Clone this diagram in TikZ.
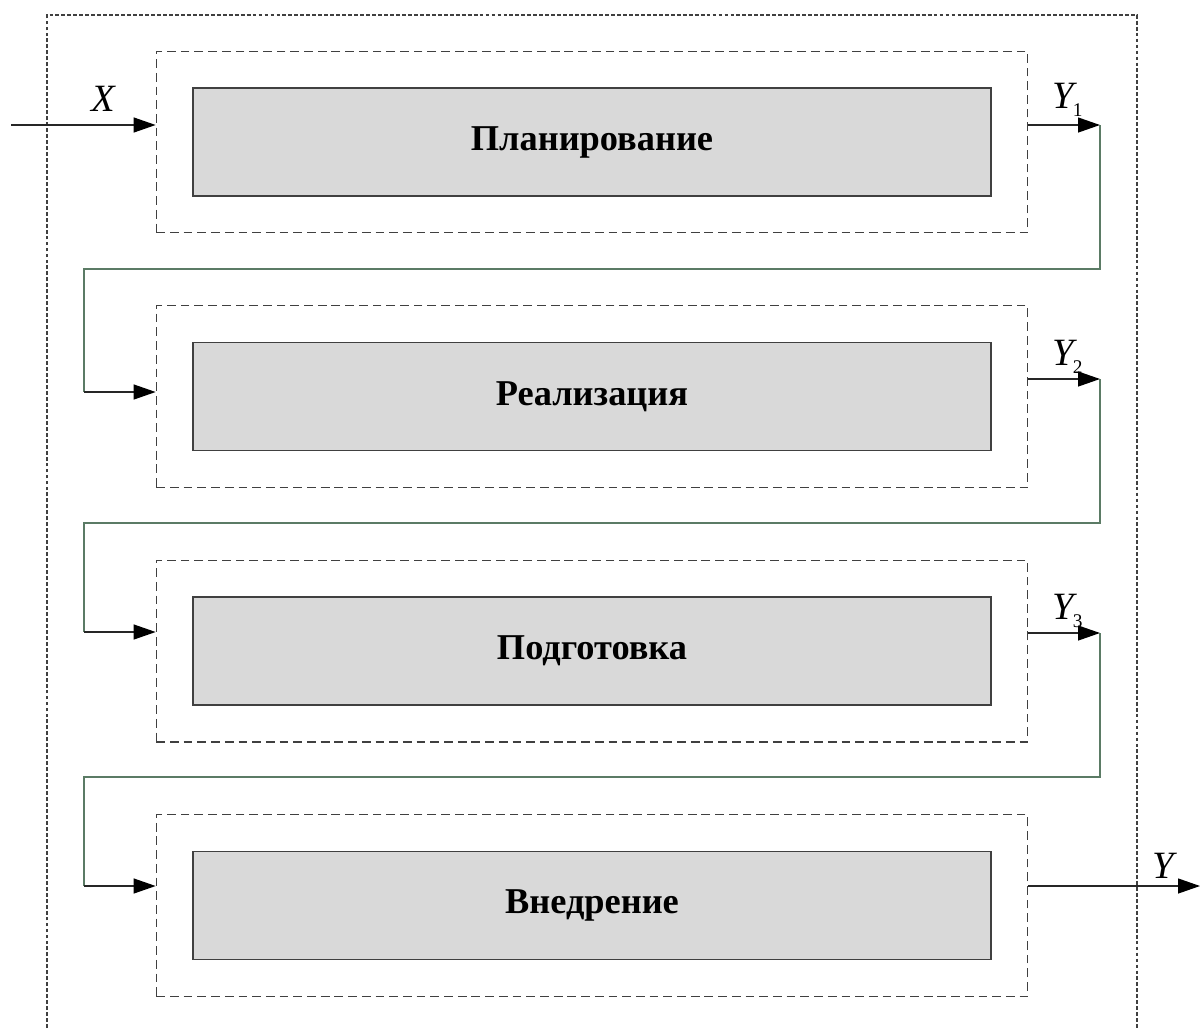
\documentclass[tikz,border=0pt]{standalone}
\usepackage{fontspec}
\setmainfont{Liberation Serif}
\usetikzlibrary{arrows.meta,positioning,fit}

\definecolor{boxgray}{HTML}{D9D9D9}
\definecolor{linegray}{HTML}{404040}
\definecolor{backgreen}{HTML}{5B7B65}

\newcommand{\ysub}[1]{\textit{Y}\kern-2.5pt\raisebox{-5pt}{\fontsize{11}{11}\selectfont #1}}

\tikzset{
  stage/.style={rectangle, draw=linegray, line width=0.9pt, fill=boxgray, minimum width=15.96cm, minimum height=2.16cm, inner sep=0pt, font=\bfseries\fontsize{20.7}{24}\selectfont},
  frame/.style={rectangle, draw=linegray, line width=0.75pt, dash pattern=on 5pt off 2.8pt, inner sep=0.72cm},
  outer/.style={draw=linegray, line width=0.6pt, dash pattern=on 2.2pt off 1.2pt},
  arr/.style={draw=black!85, line width=0.7pt, -{Triangle[length=0.44cm, width=0.3cm, color=black]}},
  back/.style={draw=backgreen, line width=0.7pt},
  lbl/.style={inner sep=0pt, font=\fontsize{22}{26}\selectfont}
}

\begin{document}
\begin{tikzpicture}[x=0.02cm, y=-0.02cm, node distance=2.9cm]
    \useasboundingbox (0,0) rectangle (1200,1028);

    % outer frame, open at the bottom
    \draw[outer] (47,1028) -- (47,15) -- (1137,15) -- (1137,1028);

    \node[stage] (plan) at (592,142) {Планирование};
    \node[stage, below=of plan] (real) {Реализация};
    \node[stage, below=of real] (prep) {Подготовка};
    \node[stage, below=of prep] (impl) {Внедрение};

    \node[frame, fit=(plan)] (planframe) {};
    \node[frame, fit=(real)] (realframe) {};
    \node[frame, fit=(prep)] (prepframe) {};
    \node[frame, fit=(impl)] (implframe) {};

    % turning points of the links
    \coordinate (xin) at (11,125);
    \coordinate (y1) at (1100,125);
    \coordinate (t1) at (84,269);
    \coordinate (in2) at (84,392);
    \coordinate (y2) at (1100,379);
    \coordinate (t2) at (84,523);
    \coordinate (in3) at (84,632);
    \coordinate (y3) at (1100,633);
    \coordinate (t3) at (84,777);
    \coordinate (in4) at (84,886);
    \coordinate (yout) at (1200,886);

    \draw[arr] (xin) -- (xin -| planframe.west);
    \node[lbl, anchor=base] (xlab) at (104,111) {\textit{X}};

    \draw[arr] (planframe.east |- y1) -- (y1);
    \draw[back] (y1) |- (t1) -- (in2);
    \draw[arr] (in2) -- (in2 -| realframe.west);
    \node[lbl, anchor=base west] (y1lab) at (1052,108) {\ysub{1}};

    \draw[arr] (realframe.east |- y2) -- (y2);
    \draw[back] (y2) |- (t2) -- (in3);
    \draw[arr] (in3) -- (in3 -| prepframe.west);
    \node[lbl, anchor=base west] (y2lab) at (1052,365) {\ysub{2}};

    \draw[arr] (prepframe.east |- y3) -- (y3);
    \draw[back] (y3) |- (t3) -- (in4);
    \draw[arr] (in4) -- (in4 -| implframe.west);
    \node[lbl, anchor=base west] (y3lab) at (1052,619) {\ysub{3}};

    \draw[arr] (implframe.east |- yout) -- (yout);
    \node[lbl, anchor=base] (ylab) at (1165,878) {\textit{Y}};
\end{tikzpicture}
\end{document}
